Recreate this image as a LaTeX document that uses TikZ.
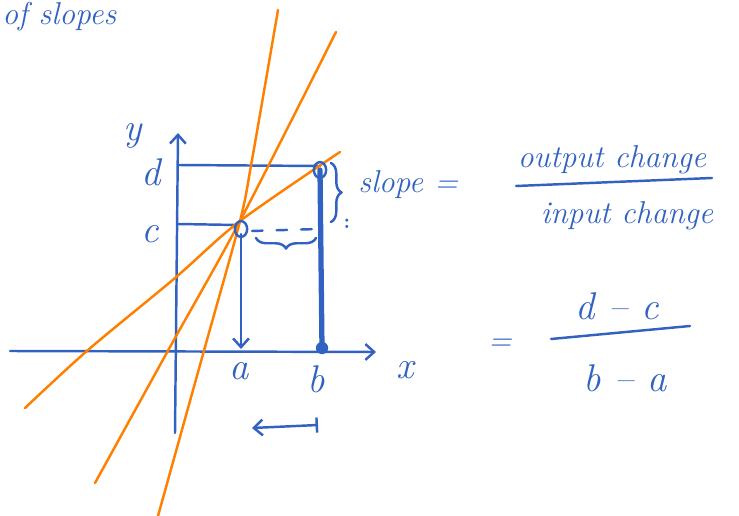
\documentclass[tikz,border=0pt]{standalone}
\usepackage{tikz}
\usetikzlibrary{arrows.meta,positioning,shapes.geometric,decorations.pathreplacing}
\definecolor{inkBlue}{RGB}{50,98,193}
\definecolor{inkOrange}{RGB}{255,127,0}

\begin{document}
\begin{tikzpicture}[
	x=0.02cm,y=-0.02cm,
	>={Straight Barb[length=5pt,width=9pt]},
	ink/.style={draw=inkBlue,line width=1.4pt,line cap=round,line join=round},
	ray/.style={draw=inkOrange,line width=1.4pt,line cap=round,line join=round},
	hand/.style={text=inkBlue,inner sep=0pt,font=\fontsize{18}{21}\selectfont\itshape},
	lbl/.style={text=inkBlue,inner sep=0pt,font=\fontsize{22}{24}\selectfont\itshape},
	pt/.style={ellipse,draw=inkBlue,line width=1.4pt,minimum width=7pt,minimum height=9pt,inner sep=0pt},
	brc/.style={ink,decorate,decoration={brace,amplitude=6pt}}
	]
	\useasboundingbox (0,0) rectangle (739,516);
	
	% axes
	\coordinate (xL) at (10,351);
	\coordinate (xR) at (376,352);
	\coordinate (yB) at (175,433);
	\coordinate (yT) at (178,133);
	\draw[ink,->] (xL) -- (xR);
	\draw[ink,->] (yB) -- (yT);
	\node[lbl] (lx) at (405,370) {x};
	\node[lbl] (ly) at (133,136) {y};
	\node[lbl] (ld) at (151,172) {d};
	\node[lbl] (lc) at (150,234) {c};
	\node[lbl] (la) at (239,371) {a};
	\node[lbl] (lb) at (316,379) {b};
	
	% guide lines
	\coordinate (D) at (178,165);
	\coordinate (C) at (178,224);
	\coordinate (A) at (241,349);
	\coordinate (cb) at (318,229);
	\draw[ink] (D) -- (320,166);
	\draw[ink] (C) -- (237,225);
	\draw[ink,->] (241,234) -- (A);
	\draw[ink,line width=3pt] (320,170) -- (322,349);
	\draw[ink,dash pattern=on 6pt off 8pt] (252,231) -- (cb);
	\draw[brc] (316,238) -- (256,238);
	\draw[brc] (331,163) -- (331,222);
	\node[text=inkBlue,font=\large\bfseries] (dots) at (347,224) {:};
	
	% lines through (a,c)
	\draw[ray] plot[smooth] coordinates {(158,516) (205,347) (240,221) (252,160) (278,10)};
	\draw[ray] plot[smooth] coordinates {(95,483) (170,347) (240,221) (336,32)};
	\draw[ray] plot[smooth] coordinates {(25,408) (88,350) (175,278) (240,221) (340,152)};
	
	\node[pt] (P) at (241,229) {};
	\node[pt] (Q) at (320,170) {};
	\node[circle,fill=inkBlue,inner sep=0pt,minimum size=7pt] (B) at (322,348) {};
	
	% run a to b
	\coordinate (wL) at (252,428);
	\coordinate (wR) at (318,425);
	\draw[ink,<-|] (wL) -- (wR);
	
	% slope text
	\node[hand,anchor=north west] (top) at (2,2) {of slopes};
	\node[hand,anchor=west] (slope) at (358,185) {slope =};
	\node[hand] (num) at (612,160) {output change};
	\node[hand] (den) at (627,216) {input change};
	\draw[ink] (516,186) -- (712,178);
	\node[hand] (eq) at (500,345) {=};
	\node[lbl] (dc) at (617,306) {d -- c};
	\node[lbl] (ba) at (625,378) {b -- a};
	\draw[ink] (551,339) -- (690,326);
\end{tikzpicture}
\end{document}
